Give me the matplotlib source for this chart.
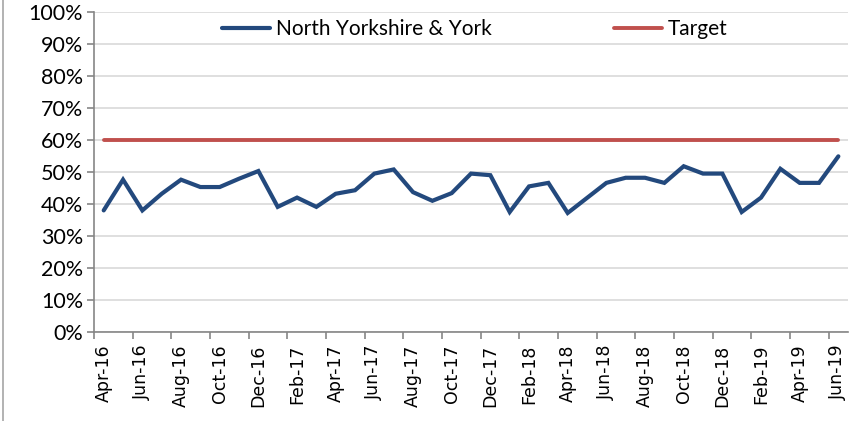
import matplotlib.pyplot as plt
import numpy as np

# monthly values, Apr-16 .. Jun-19
months = ["Apr-16", "May-16", "Jun-16", "Jul-16", "Aug-16", "Sep-16", "Oct-16", "Nov-16",
          "Dec-16", "Jan-17", "Feb-17", "Mar-17", "Apr-17", "May-17", "Jun-17", "Jul-17",
          "Aug-17", "Sep-17", "Oct-17", "Nov-17", "Dec-17", "Jan-18", "Feb-18", "Mar-18",
          "Apr-18", "May-18", "Jun-18", "Jul-18", "Aug-18", "Sep-18", "Oct-18", "Nov-18",
          "Dec-18", "Jan-19", "Feb-19", "Mar-19", "Apr-19", "May-19", "Jun-19"]
nyy = [38.0, 47.6, 38.0, 43.2, 47.6, 45.3, 45.3, 47.9, 50.3, 39.1, 42.0, 39.1, 43.2,
       44.3, 49.5, 50.8, 43.7, 41.0, 43.4, 49.5, 49.0, 37.5, 45.5, 46.6, 37.2, 41.9,
       46.6, 48.2, 48.2, 46.6, 51.8, 49.5, 49.5, 37.5, 42.0, 51.0, 46.6, 46.6, 54.9]
target = [60.0] * len(months)

plt.rcParams['font.family'] = ['Lato', 'DejaVu Sans']

fig = plt.figure(figsize=(8.51, 4.21), dpi=100)
ax = fig.add_axes([0.1105, 0.2114, 0.886, 0.7601])

x = np.arange(len(months))
ax.plot(x, nyy, color='#23497D', lw=3.0, solid_capstyle='round', solid_joinstyle='miter',
        label='North Yorkshire & York')
ax.plot(x, target, color='#C0504D', lw=2.8, solid_capstyle='round', label='Target')

ax.set_xlim(-0.5, len(months) - 0.5)
ax.set_ylim(0, 100)
ax.set_yticks(np.arange(0, 101, 10))
ax.set_yticklabels([f"{v}%" for v in range(0, 101, 10)], fontsize=15.5)
ax.yaxis.grid(True, color='#D9D9D9', lw=1.2)
ax.set_axisbelow(True)

# tick marks between categories, labels every second month
ax.set_xticks(np.arange(0, len(months), 2) - 0.5)
ax.set_xticklabels([])
ax.set_xticks(np.arange(0, len(months), 2), minor=True)
ax.set_xticklabels(months[::2], minor=True, rotation=90, fontsize=12.5,
                   family='DejaVu Sans')
ax.tick_params(axis='x', which='minor', length=0, pad=9)
ax.tick_params(axis='x', which='major', length=5, color='#868686', width=1.2)
ax.tick_params(axis='y', length=5, color='#868686', width=1.2, pad=3)

for s in ['top', 'right']:
    ax.spines[s].set_visible(False)
for s in ['left', 'bottom']:
    ax.spines[s].set_color('#868686')
    ax.spines[s].set_linewidth(1.2)

ax.legend(loc='center', bbox_to_anchor=(0.505, 0.947), ncol=2, frameon=False,
          fontsize=15, handlelength=2.3, handletextpad=0.25, columnspacing=5.9)

# outer frame edge at the left
fig.add_artist(plt.Line2D([0.004, 0.004], [0, 1], color='#A6A6A6', lw=1.2))

fig.savefig("out.png", dpi=100)
